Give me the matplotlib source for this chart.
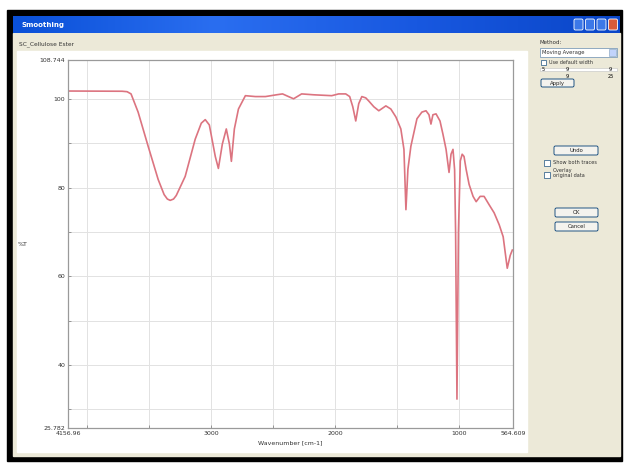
import numpy as np
import matplotlib.pyplot as plt
from matplotlib.patches import Rectangle, FancyBboxPatch

# spectrum (wavenumber in cm-1, %T)
wavenumber = [4156.96, 3720, 3680, 3648, 3591, 3510, 3429, 3381, 3355, 3332, 3305,
              3283, 3211, 3130, 3081, 3049, 3016, 2968, 2943, 2911, 2879, 2854, 2838,
              2814, 2781, 2725, 2644, 2563, 2474, 2425, 2377, 2336, 2271,
              2174, 2028, 1972, 1915, 1883, 1858, 1834, 1810, 1785, 1753,
              1729, 1688, 1648, 1591, 1551, 1510, 1470, 1445, 1429, 1413,
              1389, 1340, 1300, 1267, 1243, 1227, 1211, 1186, 1154, 1130,
              1105, 1081, 1065, 1049, 1036, 1028, 1017, 1005, 990, 975,
              960, 943, 919, 887, 862, 830, 798, 757, 717, 676,
              644, 611, 587, 570]
transmittance = [101.75, 101.7, 101.6, 101.1, 97.0, 89.3, 81.8, 78.4, 77.4, 77.1, 77.4,
                 78.2, 82.5, 90.9, 94.5, 95.3, 94.1, 87.0, 84.3, 89.8, 93.2, 89.8, 85.9,
                 93.2, 97.7, 100.7, 100.5, 100.5, 100.9, 101.1, 100.5, 100.0, 101.1,
                 100.9, 100.7, 101.1, 101.1, 100.5, 98.2, 95.0, 98.9, 100.5, 100.2,
                 99.5, 98.2, 97.3, 98.4, 97.7, 95.9, 93.2, 88.6, 75.0, 84.1,
                 89.3, 95.5, 97.0, 97.3, 96.4, 94.3, 96.4, 96.6, 95.0, 92.0,
                 88.6, 83.4, 87.5, 88.6, 84.0, 70.0, 32.3, 70.0, 86.0, 87.5,
                 87.0, 84.1, 80.7, 78.0, 76.8, 78.0, 78.0, 76.1, 74.3, 71.6,
                 68.9, 61.8, 64.7, 65.9]

x_min, x_max = 4156.96, 564.609
y_min, y_max = 25.782, 108.744
x_major = [3000, 2000, 1000]
x_grid = [4000, 3500, 3000, 2500, 2000, 1500, 1000]
y_major = [40, 60, 80, 100]
y_grid = [30, 40, 50, 60, 70, 80, 90, 100]

file_name = "SC_Cellulose Ester"
title = "Smoothing"

W, H = 624, 463
fig = plt.figure(figsize=(W / 100, H / 100), dpi=100)

# window chrome drawn in pixel coordinates
bg = fig.add_axes([0, 0, 1, 1])
bg.set_xlim(0, W)
bg.set_ylim(H, 0)
bg.axis("off")

def rect(x0, y0, x1, y1, **kw):
    bg.add_patch(Rectangle((x0, y0), x1 - x0, y1 - y0, **kw))

rect(0, 0, W, H, color="white")
rect(7, 10, 622, 461, color="black")
rect(13, 33, 620, 456, color="#ece9d8")
# title bar with a blue gradient
grad = np.linspace(0, 1, 256).reshape(1, -1)
bg.imshow(grad, extent=(13, 620, 33, 16), aspect="auto",
          cmap=plt.matplotlib.colors.LinearSegmentedColormap.from_list(
              "xp", ["#0a50d8", "#2a6ef0", "#1858e0", "#0a46c8"]), zorder=1)
bg.text(21, 25, title, color="white", fontsize=5, fontweight="bold",
        va="center", ha="left", zorder=2)
for i, c in enumerate(["#3c78e8", "#3c78e8", "#3c78e8", "#d85a3a"]):
    bg.add_patch(FancyBboxPatch((574 + i * 11.5, 19), 9, 11,
                                boxstyle="round,pad=0,rounding_size=1.5",
                                fc=c, ec="white", lw=0.6, zorder=3))
bg.text(19, 44, file_name, fontsize=4.2, color="#333333", va="center")

# white plotting panel
rect(17, 51, 527, 452, color="white")

# right control panel
bg.text(540, 43, "Method:", fontsize=4, color="#333333", va="center")
rect(540, 48, 617, 57, fc="white", ec="#7f9db9", lw=0.6)
bg.text(542, 52.5, "Moving Average", fontsize=3.8, color="#333333", va="center")
rect(609, 49, 616, 56, fc="#c1d3fb", ec="#7f9db9", lw=0.4)
rect(541, 60, 546, 65, fc="white", ec="#1c5180", lw=0.5)
bg.text(549, 62.5, "Use default width", fontsize=3.6, color="#333333", va="center")
rect(540, 68, 617, 71, fc="white", ec="#c0c0c0", lw=0.4)
bg.text(542, 69.5, "5", fontsize=3.6, va="center")
bg.text(566, 69.5, "9", fontsize=3.6, va="center")
bg.text(609, 69.5, "9", fontsize=3.6, va="center")
bg.text(566, 76, "9", fontsize=3.6, va="center")
bg.text(608, 76, "25", fontsize=3.6, va="center")
for y0, y1, x0, x1, lab in [(79, 87, 541, 574, "Apply"),
                            (146, 155, 554, 598, "Undo"),
                            (208, 217, 555, 598, "OK"),
                            (222, 231, 555, 598, "Cancel")]:
    bg.add_patch(FancyBboxPatch((x0, y0), x1 - x0, y1 - y0,
                                boxstyle="round,pad=0,rounding_size=1.5",
                                fc="#f4f3ee", ec="#003c74", lw=0.6))
    bg.text((x0 + x1) / 2, (y0 + y1) / 2, lab, fontsize=3.8,
            ha="center", va="center", color="#222222")
rect(544, 160, 550, 166, fc="white", ec="#1c5180", lw=0.5)
bg.text(553, 163, "Show both traces", fontsize=3.6, color="#333333", va="center")
rect(544, 172, 550, 178, fc="white", ec="#1c5180", lw=0.5)
bg.text(553, 173, "Overlay\noriginal data", fontsize=3.6, color="#333333",
        va="center", linespacing=1.1)

# the spectrum
ax = fig.add_axes([68 / W, 1 - 428 / H, (513 - 68) / W, (428 - 60) / H])
ax.set_facecolor("white")
ax.plot(wavenumber, transmittance, color="#dc7480", lw=1.2,
        solid_joinstyle="round")
ax.set_xlim(x_min, x_max)
ax.set_ylim(y_min, y_max)

ax.set_xticks([x_min] + x_major + [x_max])
ax.set_xticklabels(["%.2f" % x_min] + [str(v) for v in x_major] + ["%.3f" % x_max])
ax.set_xticks(x_grid, minor=True)
ax.set_yticks([y_min] + y_major + [y_max])
ax.set_yticklabels(["%.3f" % y_min] + [str(v) for v in y_major] + ["%.3f" % y_max])
ax.set_yticks(y_grid, minor=True)
ax.tick_params(which="both", direction="in", length=2.5, width=0.6,
               colors="#888888", labelsize=4.5, labelcolor="#333333", pad=2)
ax.tick_params(which="minor", labelleft=False, labelbottom=False)
for v in x_grid:
    ax.axvline(v, color="#e2e2e2", lw=0.7, zorder=0)
for v in y_grid:
    ax.axhline(v, color="#e2e2e2", lw=0.7, zorder=0)
for s in ax.spines.values():
    s.set_color("#9a9a9a")
    s.set_linewidth(0.9)

ax.set_xlabel("Wavenumber [cm-1]", fontsize=4.5, color="#333333", labelpad=3)
ax.set_ylabel("%T", fontsize=4.5, color="#333333", rotation=0, labelpad=12,
              va="center")

fig.savefig("out.png", dpi=100)
